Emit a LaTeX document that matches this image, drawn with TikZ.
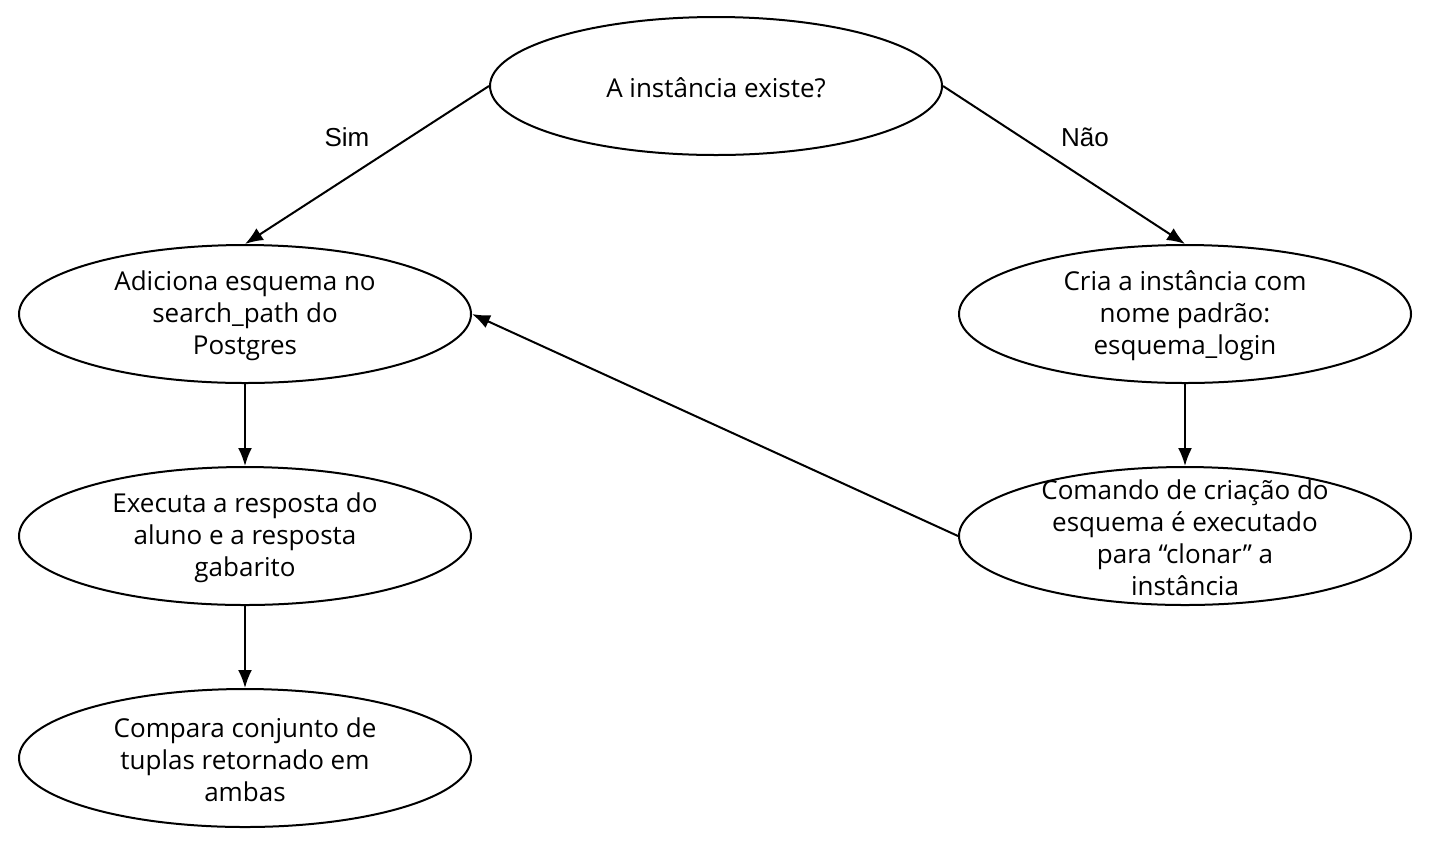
\documentclass[tikz,border=0pt]{standalone}
\usepackage{fontspec}
\setmainfont{Open Sans}
\newfontfamily\labelfont{Liberation Sans}
\usetikzlibrary{shapes.geometric,arrows.meta}

\tikzset{
    stage/.style={draw,ellipse,line width=1pt,minimum width=226pt,
        minimum height=69pt,inner sep=0pt},
    stagetext/.style={align=center,yshift=-1pt,
        font=\fontsize{13}{16}\selectfont},
    flow/.style={-{Latex[length=9pt,width=7pt]},line width=1pt},
    answer/.style={font=\labelfont\fontsize{13}{15}\selectfont}
}

\begin{document}
\begin{tikzpicture}[x=0.5pt,y=-0.5pt]
        \useasboundingbox (0,0) rectangle (1433,842);

        \node[stage,label={[stagetext]center:A instância existe?}]
            (exists) at (716,86) {};
        \node[stage,label={[stagetext]center:Adiciona esquema no\\search\_path do\\Postgres}]
            (path) at (245,314) {};
        \node[stage,label={[stagetext]center:Executa a resposta do\\aluno e a resposta\\gabarito}]
            (run) at (245,536) {};
        \node[stage,label={[stagetext]center:Compara conjunto de\\tuplas retornado em\\ambas}]
            (compare) at (245,758) {};
        \node[stage,label={[stagetext]center:Cria a instância com\\nome padrão:\\esquema\_login}]
            (create) at (1185,314) {};
        \node[stage,label={[stagetext]center:Comando de criação do\\esquema é executado\\para “clonar” a\\instância}]
            (clone) at (1185,536) {};

        \draw[flow] (exists.west) -- (path.north);
        \draw[flow] (exists.east) -- (create.north);
        \draw[flow] (path) -- (run);
        \draw[flow] (run) -- (compare);
        \draw[flow] (create) -- (clone);
        \draw[flow] (clone.west) -- (path.east);

        \node[answer] (yes) at (347,137) {Sim};
        \node[answer] (no) at (1085,137) {Não};

    \end{tikzpicture}
\end{document}
